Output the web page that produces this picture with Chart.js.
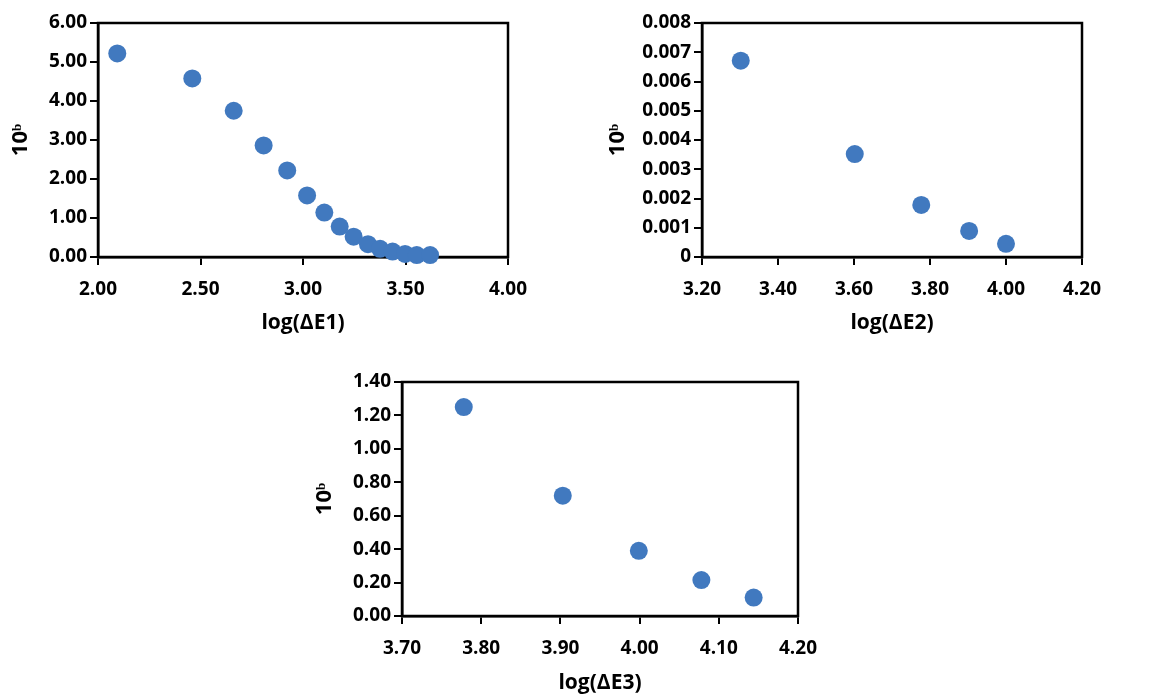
<!DOCTYPE html>
<html>
<head>
<meta charset="utf-8">
<script src="https://cdn.jsdelivr.net/npm/chart.js@4"></script>
<style>
  body { margin: 0; background: #fff; width: 1168px; height: 694px; position: relative; overflow: hidden; }
  .box { position: absolute; }
</style>
</head>
<body>
<div class="box" style="left:0;top:0;width:560px;height:345px"><canvas id="c1"></canvas></div>
<div class="box" style="left:580px;top:0;width:588px;height:345px"><canvas id="c2"></canvas></div>
<div class="box" style="left:300px;top:360px;width:580px;height:334px"><canvas id="c3"></canvas></div>
<script>
// chart 1 data
const logE1 = [2.094, 2.46, 2.662, 2.808, 2.923, 3.02, 3.104, 3.179, 3.247, 3.317, 3.376, 3.437, 3.498, 3.555, 3.62];
const b1 = [5.22, 4.58, 3.75, 2.86, 2.22, 1.58, 1.14, 0.78, 0.52, 0.33, 0.21, 0.14, 0.08, 0.05, 0.05];
// chart 2 data
const logE2 = [3.302, 3.602, 3.777, 3.903, 4.0];
const b2 = [0.00671, 0.00352, 0.00178, 0.00089, 0.00045];
// chart 3 data
const logE3 = [3.778, 3.903, 3.999, 4.078, 4.144];
const b3 = [1.25, 0.72, 0.39, 0.215, 0.11];

const xTitles = ['log(ΔE1)', 'log(ΔE2)', 'log(ΔE3)'];
const yTitle = '10ᵇ';

const dotColor = '#4179bf';
const font = '"Open Sans"';

// draw top and right sides of the plot box
const frame = {
    id: 'frame',
    beforeDatasetsDraw(chart) {
        const a = chart.chartArea;
        const ctx = chart.ctx;
        ctx.save();
        ctx.strokeStyle = '#000';
        ctx.lineWidth = 2.5;
        ctx.strokeRect(a.left, a.top, a.right - a.left, a.bottom - a.top);
        ctx.restore();
    }
};

function makeChart(id, xs, ys, o) {
    const pts = xs.map((x, i) => ({ x: x, y: ys[i] }));
    const axisCommon = {
        border: { color: '#000', width: 2.5 },
        grid: { drawOnChartArea: false, drawTicks: true, tickLength: 8, color: '#000', lineWidth: 2 },
    };
    new Chart(document.getElementById(id), {
        type: 'scatter',
        data: {
            datasets: [{
                data: pts,
                backgroundColor: dotColor,
                borderColor: dotColor,
                borderWidth: 0,
                pointRadius: 9,
                pointHoverRadius: 9,
                clip: false
            }]
        },
        options: {
            responsive: true,
            maintainAspectRatio: false,
            animation: false,
            events: [],
            layout: { padding: { left: 0, top: o.top, right: o.right, bottom: 0 } },
            plugins: { legend: { display: false }, tooltip: { enabled: false } },
            scales: {
                x: {
                    ...axisCommon,
                    type: 'linear',
                    min: o.xMin, max: o.xMax,
                    afterFit: s => { s.height = o.h - o.bottom; },
                    ticks: {
                        stepSize: o.xStep,
                        padding: 13,
                        color: '#000',
                        font: { family: font, size: 19, weight: 'bold' },
                        maxRotation: 0,
                        callback: v => v.toFixed(2)
                    },
                    title: {
                        display: true, text: o.xTitle, color: '#000',
                        font: { family: font, size: 21, weight: 'bold', lineHeight: 1 },
                        padding: { top: 0, bottom: o.xtPad }
                    }
                },
                y: {
                    ...axisCommon,
                    type: 'linear',
                    min: o.yMin, max: o.yMax,
                    afterFit: s => { s.width = o.left; },
                    ticks: {
                        stepSize: o.yStep,
                        padding: 3,
                        color: '#000',
                        font: { family: font, size: 19, weight: 'bold' },
                        callback: o.yFmt
                    },
                    title: {
                        display: true, text: yTitle, color: '#000',
                        font: { family: font, size: 22, weight: 'bold', lineHeight: 1 },
                        padding: { top: o.ytPad, bottom: 0 }
                    }
                }
            }
        },
        plugins: [frame]
    });
}

makeChart('c1', logE1, b1, {
    h: 345, left: 98, top: 23, right: 52, bottom: 257,
    xMin: 2, xMax: 4, xStep: 0.5, yMin: 0, yMax: 6, yStep: 1,
    yFmt: v => v.toFixed(2), xTitle: xTitles[0], xtPad: 11, ytPad: 10
});
makeChart('c2', logE2, b2, {
    h: 345, left: 122, top: 23, right: 86, bottom: 257,
    xMin: 3.2, xMax: 4.2, xStep: 0.2, yMin: 0, yMax: 0.008, yStep: 0.001,
    yFmt: v => (Math.abs(v) < 1e-9 ? '0' : v.toFixed(3)), xTitle: xTitles[1], xtPad: 11, ytPad: 27
});
makeChart('c3', logE3, b3, {
    h: 334, left: 102, top: 22, right: 82, bottom: 256,
    xMin: 3.7, xMax: 4.2, xStep: 0.1, yMin: 0, yMax: 1.4, yStep: 0.2,
    yFmt: v => v.toFixed(2), xTitle: xTitles[2], xtPad: 0, ytPad: 14
});
</script>
</body>
</html>
